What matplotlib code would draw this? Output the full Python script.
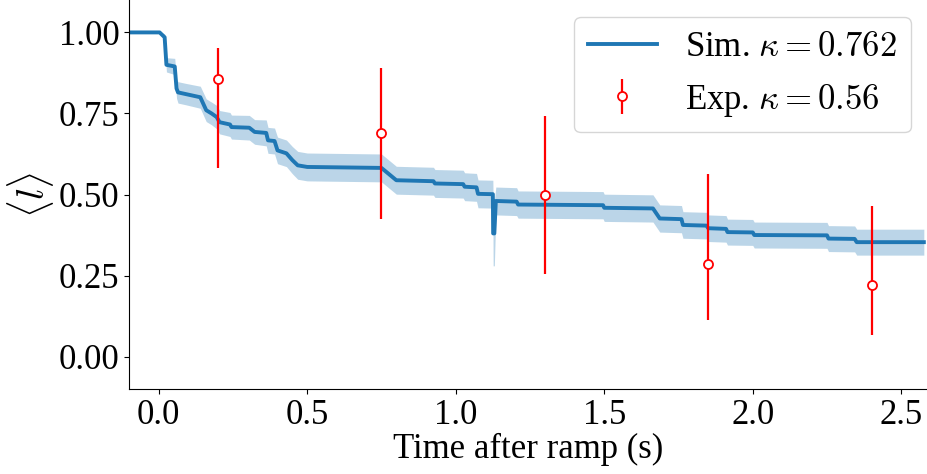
import numpy as np
import matplotlib
matplotlib.use("Agg")
import matplotlib.pyplot as plt

plt.rcParams['font.family'] = ['Liberation Serif', 'DejaVu Serif']
plt.rcParams['mathtext.fontset'] = 'cm'
plt.rcParams['font.size'] = 25

# simulated mean occupation and its band half-width
sim_t = [-0.1, 0.003, 0.02, 0.026, 0.054, 0.06, 0.065, 0.09, 0.14, 0.16,
         0.178, 0.195, 0.205, 0.24, 0.245, 0.305, 0.323, 0.362, 0.368, 0.39,
         0.40, 0.43, 0.45, 0.468, 0.50, 0.75, 0.80, 0.925, 0.93, 1.025,
         1.03, 1.07, 1.075, 1.125, 1.126, 1.13, 1.135, 1.205, 1.21, 1.496,
         1.50, 1.664, 1.687, 1.76, 1.765, 1.844, 1.85, 1.91, 1.915, 2.0,
         2.005, 2.25, 2.255, 2.343, 2.35, 2.576]
sim_mean = [1.0, 1.0, 0.985, 0.90, 0.895, 0.827, 0.815, 0.81, 0.80, 0.76,
            0.75, 0.739, 0.723, 0.716, 0.708, 0.706, 0.693, 0.69, 0.667, 0.665,
            0.636, 0.627, 0.606, 0.59, 0.585, 0.582, 0.544, 0.541, 0.534, 0.532,
            0.524, 0.522, 0.502, 0.501, 0.38, 0.38, 0.48, 0.478, 0.469, 0.467,
            0.459, 0.457, 0.426, 0.424, 0.406, 0.404, 0.396, 0.394, 0.384, 0.383,
            0.375, 0.374, 0.364, 0.363, 0.353, 0.353]
sim_err = [0.002, 0.002, 0.01, 0.022, 0.025, 0.03, 0.033, 0.033, 0.034, 0.035,
           0.035, 0.036, 0.036, 0.037, 0.037, 0.038, 0.038, 0.04, 0.04, 0.04,
           0.041, 0.041, 0.042, 0.043, 0.043, 0.043, 0.043, 0.043, 0.043, 0.043,
           0.043, 0.043, 0.043, 0.043, 0.1, 0.1, 0.043, 0.043, 0.042, 0.042,
           0.042, 0.042, 0.042, 0.042, 0.041, 0.041, 0.041, 0.041, 0.04, 0.04,
           0.04, 0.04, 0.04, 0.04, 0.04, 0.04]

# experiment points with asymmetric error bars
exp_t = [0.2, 0.75, 1.3, 1.85, 2.4]
exp_mean = [0.857, 0.691, 0.499, 0.285, 0.221]
exp_err_low = [0.274, 0.268, 0.243, 0.171, 0.153]
exp_err_high = [0.095, 0.199, 0.242, 0.278, 0.243]

sim_t = np.array(sim_t)
sim_mean = np.array(sim_mean)
sim_err = np.array(sim_err)

fig = plt.figure(figsize=(9.28, 4.74), dpi=100)
ax = fig.add_axes([129 / 928, 85 / 474, 799 / 928, 389 / 474])

ax.fill_between(sim_t, sim_mean - sim_err, sim_mean + sim_err,
                color='tab:blue', alpha=0.3, linewidth=0)
ax.plot(sim_t, sim_mean, color='tab:blue', lw=2.8, label=r'Sim. $\kappa=0.762$')
ax.errorbar(exp_t, exp_mean, yerr=[exp_err_low, exp_err_high], fmt='o',
            color='red', ecolor='red', elinewidth=1.6, mfc='white', mec='red',
            ms=6.5, mew=1.3, label=r'Exp. $\kappa=0.56$')

ax.set_xlim(-0.1, 2.59)
ax.set_ylim(-0.1, 1.1)
ax.set_yticks([0.0, 0.25, 0.5, 0.75, 1.0])
ax.set_xticks([0.0, 0.5, 1.0, 1.5, 2.0, 2.5])
ax.spines['top'].set_visible(False)
ax.spines['right'].set_visible(False)
ax.set_xlabel('Time after ramp (s)', labelpad=1)
ax.set_ylabel(r'$\langle l \rangle$', fontsize=28, labelpad=2)
ax.legend(loc='upper right')

fig.savefig('out.png', dpi=100)
